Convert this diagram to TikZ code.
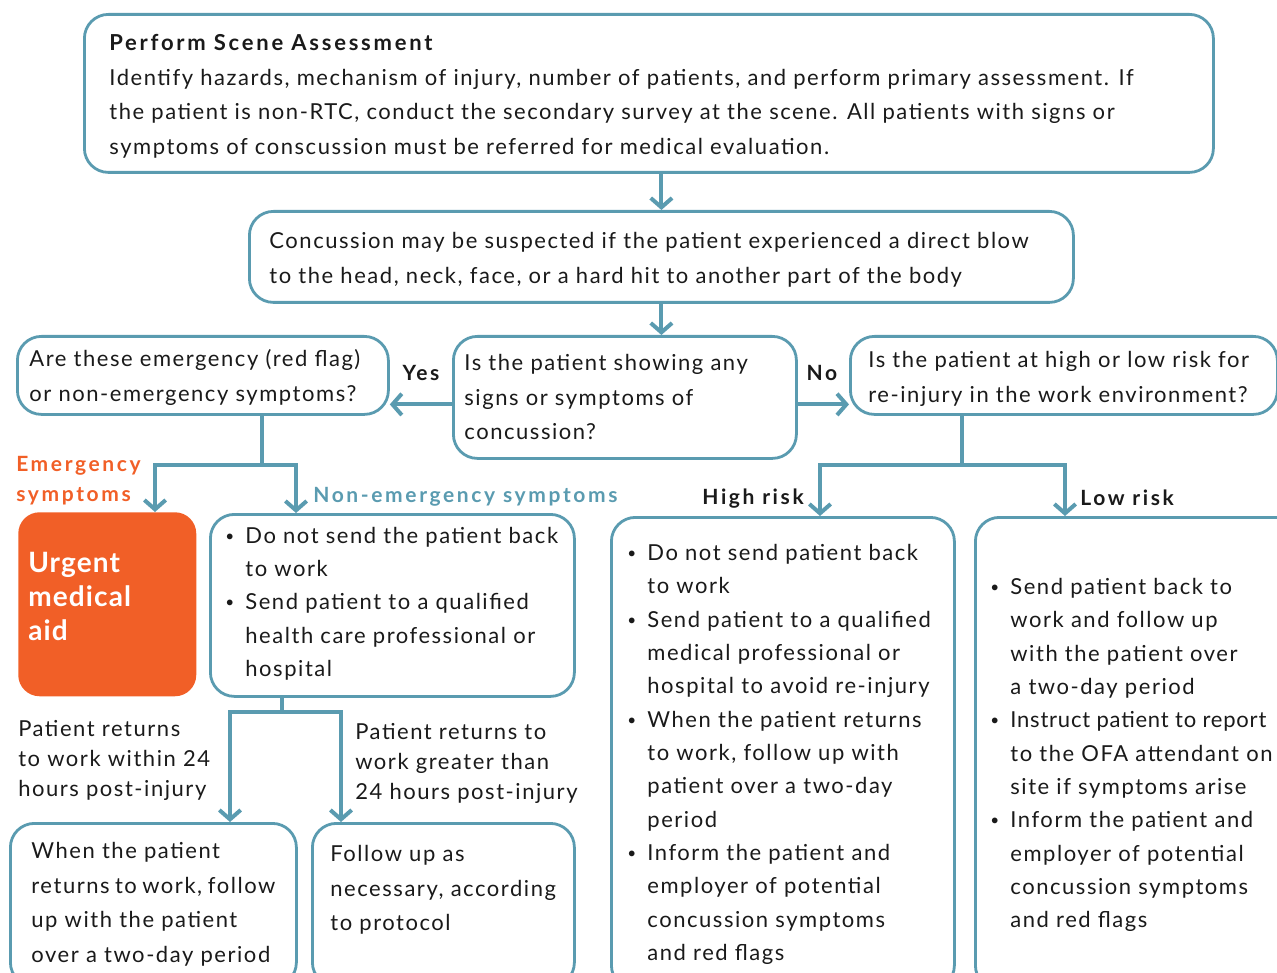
\documentclass[tikz,border=0pt]{standalone}
\usepackage{fontspec}
\setmainfont{Lato}[LetterSpace=7]
\newfontfamily\headfont{Lato}[LetterSpace=12.5]
\newfontfamily\urgfont{Lato}[LetterSpace=4]
\usepackage{xcolor}
\usetikzlibrary{arrows.meta,positioning}
\definecolor{flowteal}{HTML}{5A9BB0}
\definecolor{flowred}{HTML}{F15F27}
\definecolor{flowink}{HTML}{1A1A1A}
\newlength\px
\setlength\px{0.75pt}
% text block of a box: width, height (in px), lines
\newcommand{\txt}[3]{\parbox[c][#2\px][t]{#1\px}{#3}}
\newcommand{\bul}{\par\hangindent=22\px\hangafter=1\noindent
  \makebox[22\px][l]{\hspace{2\px}\raisebox{2\px}{\scalebox{0.7}{\textbullet}}}}

\begin{document}
\begin{tikzpicture}[x=0.75pt,y=-0.75pt,
  font=\fontsize{16.5}{25.9}\selectfont, text=flowink,
  box/.style={draw=flowteal,line width=2.1pt,rounded corners=18pt,
    fill=white,anchor=north west},
  urgbox/.style={fill=flowred,rounded corners=16pt,anchor=north west},
  arr/.style={-{Straight Barb[length=7pt,width=16pt]},line width=3pt,draw=flowteal},
  link/.style={line width=3pt,draw=flowteal},
  lbl/.style={font=\fontsize{15.75}{22.5}\selectfont\headfont\bfseries,
    inner sep=0pt,align=left},
  note/.style={font=\fontsize{16.5}{22.2}\selectfont,inner sep=0pt,align=left}]

  \useasboundingbox (0,0) rectangle (1277,973);
  \clip (0,0) rectangle (1277,973);

  \node[box,inner xsep=25\px,inner ysep=20\px] (scene) at (83,13)
    {\txt{1079}{118}{{\headfont\bfseries Perform Scene Assessment}\\
     Identify hazards, mechanism of injury, number of patients, and perform primary assessment. If\\
     the patient is non-RTC, conduct the secondary survey at the scene. All patients with signs or\\
     symptoms of conscussion must be referred for medical evaluation.}};
  \node[box,inner xsep=20\px,inner ysep=21\px] (susp) at (248,210)
    {\txt{784}{49}{\fontsize{16.5}{26.2}\selectfont
     Concussion may be suspected if the patient experienced a direct blow\\
     to the head, neck, face, or a hard hit to another part of the body}};
  \node[box,inner xsep=11\px,inner ysep=18\px] (q) at (452,335)
    {\txt{321}{86}{Is the patient showing any\\signs or symptoms of\\concussion?}};
  \node[box,inner xsep=12\px,inner ysep=13\px] (emer) at (16,335)
    {\txt{347}{52}{\fontsize{16.5}{26.2}\selectfont
     Are these emergency (red flag)\\or non-emergency symptoms?}};
  \node[box,inner xsep=18\px,inner ysep=15\px] (risk) at (849,335)
    {\txt{391}{48}{Is the patient at high or low risk for\\re-injury in the work environment?}};

  \node[lbl] (yes) at (421,373) {Yes};
  \node[lbl] (no) at (822,373) {No};
  \coordinate (yesstart) at ([yshift=-5.25pt]q.west);
  \coordinate (nostart) at ([yshift=-5.25pt]q.east);
  \draw[arr] (scene.south -| susp.north) -- (susp.north);
  \draw[arr] (susp.south) -- (susp.south |- q.north);
  \draw[arr] (yesstart) -- (yesstart -| emer.east);
  \draw[arr] (nostart) -- (nostart -| risk.west);

  % emergency branch
  \node[urgbox,inner xsep=10\px,inner ysep=40\px] (urgent) at (18,512)
    {\txt{158}{104}{\color{white}\fontsize{21}{25.5}\selectfont\urgfont\bfseries
     Urgent\\medical\\aid}};
  \node[box,inner xsep=13\px,inner ysep=12.5\px] (nonem) at (209,513)
    {\txt{338}{157}{\fontsize{16.5}{25}\selectfont
     \bul Do not send the patient back\\to work
     \bul Send patient to a qualified\\health care professional or\\hospital}};
  \node[lbl,text=flowred,anchor=west] (emlab) at (16,481) {Emergency\\symptoms};
  \node[lbl,text=flowteal,anchor=west] (nelab) at (313,497) {Non-emergency symptoms};
  \coordinate (emsplit) at (262,465);
  \draw[link] (emsplit |- emer.south) -- (emsplit);
  \draw[arr] (emsplit) -| (155,0 |- urgent.north);
  \draw[arr] (emsplit) -| (296,0 |- nonem.north);

  % return to work
  \node[box,inner xsep=21\px,inner ysep=19\px] (retwork) at (9,822)
    {\txt{244}{125}{\fontsize{16.5}{26}\selectfont
     When the patient\\returns to work, follow\\up with the patient\\over a two-day period}};
  \node[box,inner xsep=18\px,inner ysep=22\px] (follow) at (311,822)
    {\txt{226}{119}{Follow up as\\necessary, according\\to protocol}};
  \node[note,anchor=west] (within) at (18,760.5) {Patient returns\\to work within 24\\hours post-injury};
  \node[note,anchor=west] (beyond) at (355,763.5) {Patient returns to\\work greater than\\24 hours post-injury};
  \coordinate (nesplit) at (282,712);
  \draw[link] (nesplit |- nonem.south) -- (nesplit);
  \draw[arr] (nesplit) -| (230,0 |- retwork.north);
  \draw[arr] (nesplit) -| (341,0 |- follow.north);

  % risk branch
  \node[box,inner xsep=14\px,inner ysep=27\px] (high) at (610,516)
    {\txt{315}{418}{\fontsize{16.5}{25}\selectfont
     \bul Do not send patient back\\to work
     \bul Send patient to a qualified\\medical professional or\\hospital to avoid re-injury
     \bul When the patient returns\\to work, follow up with\\patient over a two-day\\period
     \bul Inform the patient and\\employer of potential\\concussion symptoms\\and red flags}};
  \node[box,inner xsep=13\px,inner ysep=61\px] (low) at (974,516)
    {\txt{304}{350}{\fontsize{16.5}{25}\selectfont
     \bul Send patient back to\\work and follow up\\with the patient over\\a two-day period
     \bul {\addfontfeature{LetterSpace=3.5}Instruct patient to report}\\to the OFA attendant on\\site if symptoms arise
     \bul Inform the patient and\\employer of potential\\concussion symptoms\\and red flags}};
  \node[lbl,anchor=east] (hilab) at (804,499) {High risk};
  \node[lbl,anchor=west] (lolab) at (1080,498) {Low risk};
  \coordinate (risksplit) at (962,465);
  \draw[link] (risksplit |- risk.south) -- (risksplit);
  \draw[arr] (risksplit) -| (820,0 |- high.north);
  \draw[arr] (risksplit) -| (1065,0 |- low.north);
\end{tikzpicture}
\end{document}
